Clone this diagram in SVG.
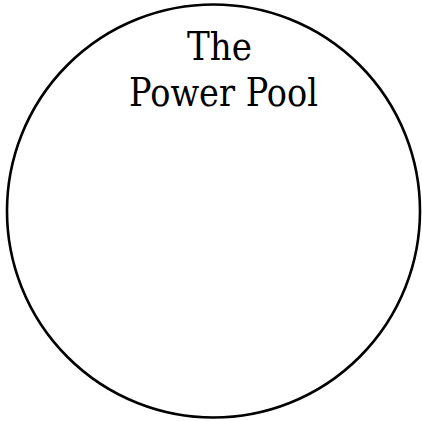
<svg xmlns="http://www.w3.org/2000/svg" width="422" height="421" viewBox="0 0 422 421">
<style>
.pool{fill:#fff;stroke:#000;stroke-width:2.6}
.lbl{font-family:"DejaVu Serif","Liberation Serif",serif;font-size:39px;fill:#000;text-anchor:middle}
</style>
<rect width="422" height="421" fill="#fff"/>
<g id="power-pool">
<circle class="pool" cx="213.5" cy="211" r="206.5"/>
<text class="lbl" x="219.5" y="60" textLength="65" lengthAdjust="spacingAndGlyphs">The</text>
<text class="lbl" x="223.5" y="106" textLength="189" lengthAdjust="spacingAndGlyphs">Power Pool</text>
</g>
</svg>
